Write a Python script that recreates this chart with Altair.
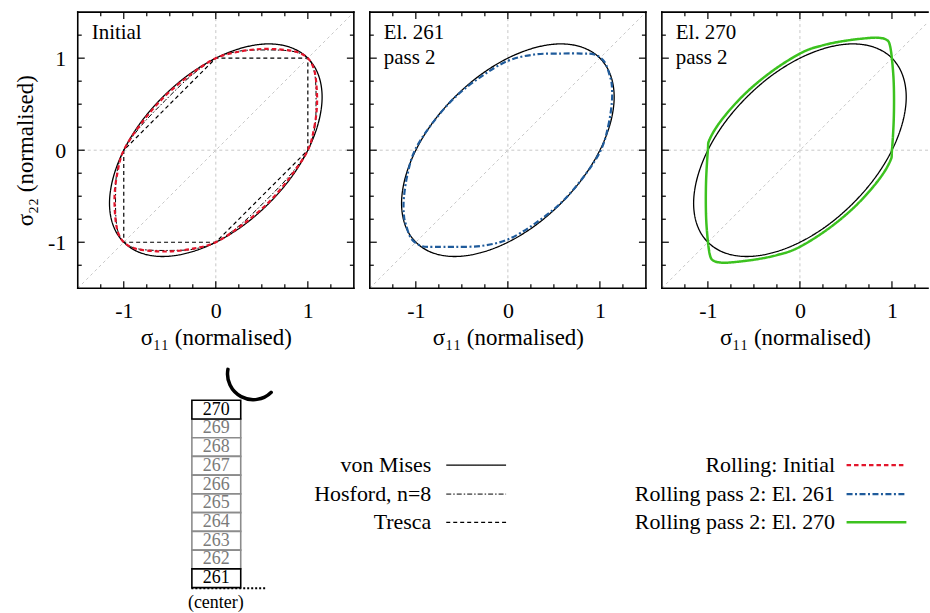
import altair as alt
import pandas as pd

FONT = "Liberation Serif"

# ---------------- data ----------------
TICK_MAJOR = [-1, 0, 1]
TICK_MINOR = [-1.25, -0.75, -0.5, -0.25, 0.25, 0.5, 0.75, 1.25]
ZERO = [0]
DIAG = [-1.5, 1.5]

VM_S11 = [1.0, 0.817, 0.577, 0.299, 0.0, -0.299, -0.577, -0.817, -1.0, -1.115, -1.155, -1.115,
          -1.0, -0.817, -0.577, -0.299, 0.0, 0.299, 0.577, 0.817, 1.0, 1.115, 1.155, 1.115]
VM_S22 = [1.0, 1.115, 1.155, 1.115, 1.0, 0.817, 0.577, 0.299, 0.0, -0.299, -0.577, -0.817,
          -1.0, -1.115, -1.155, -1.115, -1.0, -0.817, -0.577, -0.299, 0.0, 0.299, 0.577, 0.817]

HOS_S11 = [1.0, 1.076, 1.089, 1.084, 1.058, 1.0, 0.9, 0.75, 0.5, 0.25, 0.0, -0.269, -0.545, -0.808,
           -1.0, -1.076, -1.089, -1.084, -1.058, -1.0, -0.9, -0.75, -0.5, -0.25, 0.0, 0.269, 0.545, 0.808]
HOS_S22 = [0.0, 0.25, 0.5, 0.75, 0.9, 1.0, 1.058, 1.084, 1.089, 1.076, 1.0, 0.808, 0.545, 0.269,
           0.0, -0.25, -0.5, -0.75, -0.9, -1.0, -1.058, -1.084, -1.089, -1.076, -1.0, -0.808, -0.545, -0.269]

TRE_S11 = [1.0, 1.0, 0.0, -1.0, -1.0, 0.0]
TRE_S22 = [0.0, 1.0, 1.0, 0.0, -1.0, -1.0]

INI_S11 = [1.0, 1.07, 1.10, 1.09, 1.06, 1.0, 0.9, 0.75, 0.5, 0.25, 0.0, -0.29, -0.57, -0.81,
           -1.0, -1.07, -1.10, -1.09, -1.06, -1.0, -0.9, -0.75, -0.5, -0.25, 0.0, 0.29, 0.57, 0.81]
INI_S22 = [0.0, 0.25, 0.5, 0.75, 0.9, 1.0, 1.06, 1.09, 1.10, 1.07, 1.0, 0.81, 0.57, 0.29,
           0.0, -0.25, -0.5, -0.75, -0.9, -1.0, -1.06, -1.09, -1.10, -1.07, -1.0, -0.81, -0.57, -0.29]

E261_S11 = [1.01, 1.09, 1.13, 1.13, 1.11, 1.05, 0.94, 0.80, 0.58, 0.29, 0.0, -0.29, -0.58, -0.83,
            -1.01, -1.09, -1.13, -1.13, -1.11, -1.05, -0.94, -0.80, -0.58, -0.29, 0.0, 0.29, 0.58, 0.83]
E261_S22 = [0.0, 0.26, 0.52, 0.70, 0.80, 0.96, 1.04, 1.05, 1.05, 1.04, 0.97, 0.80, 0.57, 0.28,
            0.0, -0.26, -0.52, -0.70, -0.80, -0.96, -1.04, -1.05, -1.05, -1.04, -0.97, -0.80, -0.57, -0.28]

E270_S11 = [1.00, 1.02, 1.02, 1.00, 0.975, 0.94, 0.87, 0.76, 0.50, 0.25, 0.02, -0.30, -0.60, -0.85, -0.98,
            -1.00, -1.02, -1.02, -1.00, -0.975, -0.94, -0.87, -0.76, -0.50, -0.25, -0.02, 0.30, 0.60, 0.85, 0.98]
E270_S22 = [0.00, 0.35, 0.71, 0.99, 1.15, 1.20, 1.22, 1.22, 1.19, 1.14, 1.06, 0.86, 0.61, 0.33, 0.12,
            0.00, -0.35, -0.71, -0.99, -1.15, -1.20, -1.22, -1.22, -1.19, -1.14, -1.06, -0.86, -0.61, -0.33, -0.12]

PANEL_LABELS = ["Initial", "El. 261\npass 2", "El. 270\npass 2"]
X_TITLE = "σ₁₁ (normalised)"
Y_TITLE = "σ₂₂ (normalised)"

LEGEND_LEFT = ["von Mises", "Hosford, n=8", "Tresca"]
LEGEND_RIGHT = ["Rolling: Initial", "Rolling pass 2: El. 261", "Rolling pass 2: El. 270"]
ELEMENTS = [270, 269, 268, 267, 266, 265, 264, 263, 262, 261]
HIGHLIGHT = [270, 261]
CENTER_LABEL = "(center)"

# ---------------- styles ----------------
STY = {
    "vm":   dict(color="black", strokeWidth=1.3, strokeDash=[1, 0]),
    "hos":  dict(color="black", strokeWidth=1.0, strokeDash=[5, 2, 1.5, 2]),
    "tre":  dict(color="black", strokeWidth=1.2, strokeDash=[4, 3]),
    "ini":  dict(color="#e3152b", strokeWidth=2.2, strokeDash=[4.5, 3]),
    "e261": dict(color="#1f5b9b", strokeWidth=2.2, strokeDash=[6, 2.5, 2, 2.5]),
    "e270": dict(color="#3cc21f", strokeWidth=2.5, strokeDash=[1, 0]),
}
GRID_COLOR = "#c8c8c8"

W, H = 277, 277
W3 = 267
SPACING = 16
MAJ_LEN, MIN_LEN = 7, 4
PAD_TOP = 9.2

LAYOUT = dict(
    x0=77, x1=930, y0=355, y1=613,
    box_l=191.5, box_r=240.5, box_top=399.3, box_h=18.8,
    dot_x0=191, dot_x1=265, dot_y=588,
    center_x=215.5, center_y=603,
    roll_x=253, roll_y=373,
    leg_rows=[464.5, 493.5, 521.8],
    leg_l_text=431.7, leg_l_line=(446.7, 506.7),
    leg_r_text=836.7, leg_r_line=(848.3, 908.3),
)


def curve_df(s11, s22):
    return pd.DataFrame({"s11": s11, "s22": s22, "i": list(range(len(s11)))})


def panel(idx, curves, label, width, xmax, right_frame, show_y):
    xs = alt.Scale(domain=[-1.5, xmax], nice=False, zero=False)
    ys = alt.Scale(domain=[-1.5, 1.5], nice=False, zero=False)
    lab_expr = "datum.value < 0 ? '-' + format(-datum.value, 'd') : format(datum.value, 'd')"
    xaxis = alt.Axis(values=TICK_MAJOR, ticks=False, tickSize=0, domain=False, grid=False,
                     labelFont=FONT, labelFontSize=22, labelPadding=12, labelColor="black",
                     labelExpr=lab_expr, title=X_TITLE, titleFont=FONT, titleFontSize=23,
                     titleFontWeight="normal", titleColor="black", titlePadding=5)
    if show_y:
        yaxis = alt.Axis(values=TICK_MAJOR, ticks=False, tickSize=0, domain=False, grid=False,
                         labelFont=FONT, labelFontSize=22, labelPadding=12, labelColor="black",
                         labelExpr=lab_expr, title=Y_TITLE, titleFont=FONT, titleFontSize=23,
                         titleFontWeight="normal", titleColor="black", titlePadding=10)
    else:
        yaxis = None

    def X(f):
        return alt.X(f"{f}:Q", scale=xs, axis=xaxis)

    def Y(f):
        return alt.Y(f"{f}:Q", scale=ys, axis=yaxis)

    layers = []
    zero = pd.DataFrame({"v": ZERO})
    layers.append(alt.Chart(zero).mark_rule(color=GRID_COLOR, strokeDash=[3, 3], strokeWidth=1)
                  .encode(x=X("v")))
    layers.append(alt.Chart(zero).mark_rule(color=GRID_COLOR, strokeDash=[3, 3], strokeWidth=1)
                  .encode(y=Y("v")))
    diag = pd.DataFrame({"d": DIAG})
    layers.append(alt.Chart(diag).mark_line(color=GRID_COLOR, strokeDash=[3, 3], strokeWidth=1, clip=True)
                  .encode(x=X("d"), y=Y("d")))

    for key, s11, s22 in curves:
        interp = "linear-closed" if key == "tre" else "cardinal-closed"
        layers.append(alt.Chart(curve_df(s11, s22))
                      .mark_line(interpolate=interp, clip=True, **STY[key])
                      .encode(x=X("s11"), y=Y("s22"), order="i:Q"))

    # tick marks (inward)
    xmaj = pd.DataFrame({"t": [t for t in TICK_MAJOR if t < xmax]})
    xmin = pd.DataFrame({"t": [t for t in TICK_MINOR if t < xmax]})
    ymaj = pd.DataFrame({"t": TICK_MAJOR})
    ymin = pd.DataFrame({"t": TICK_MINOR})
    for df, ln in ((xmaj, MAJ_LEN), (xmin, MIN_LEN)):
        layers.append(alt.Chart(df).mark_rule(color="black", strokeWidth=1.2)
                      .encode(x=X("t"), y=alt.value(H), y2=alt.value(H - ln)))
        layers.append(alt.Chart(df).mark_rule(color="black", strokeWidth=1.2)
                      .encode(x=X("t"), y=alt.value(0), y2=alt.value(ln)))
    for df, ln in ((ymaj, MAJ_LEN), (ymin, MIN_LEN)):
        layers.append(alt.Chart(df).mark_rule(color="black", strokeWidth=1.2)
                      .encode(y=Y("t"), x=alt.value(0), x2=alt.value(ln)))
        if right_frame:
            layers.append(alt.Chart(df).mark_rule(color="black", strokeWidth=1.2)
                          .encode(y=Y("t"), x=alt.value(width), x2=alt.value(width - ln)))

    # frame
    one = pd.DataFrame({"a": [0]})
    fr = dict(color="black", strokeWidth=1.6, strokeCap="square")
    layers.append(alt.Chart(one).mark_rule(**fr).encode(x=alt.value(0), y=alt.value(0), y2=alt.value(H)))
    layers.append(alt.Chart(one).mark_rule(**fr).encode(x=alt.value(0), x2=alt.value(width), y=alt.value(0)))
    layers.append(alt.Chart(one).mark_rule(**fr).encode(x=alt.value(0), x2=alt.value(width), y=alt.value(H)))
    if right_frame:
        layers.append(alt.Chart(one).mark_rule(**fr).encode(x=alt.value(width), y=alt.value(0), y2=alt.value(H)))

    # panel label
    layers.append(alt.Chart(pd.DataFrame({"t": [label]}))
                  .mark_text(align="left", baseline="alphabetic", font=FONT, fontSize=21,
                             lineBreak="\n", lineHeight=25, color="black")
                  .encode(x=alt.value(14), y=alt.value(27), text="t:N"))

    return alt.layer(*layers).properties(width=width, height=H)


p1 = panel(0, [("vm", VM_S11, VM_S22), ("tre", TRE_S11, TRE_S22), ("hos", HOS_S11, HOS_S22),
               ("ini", INI_S11, INI_S22)], PANEL_LABELS[0], W, 1.5, True, True)
p2 = panel(1, [("vm", VM_S11, VM_S22), ("e261", E261_S11, E261_S22)], PANEL_LABELS[1], W, 1.5, True, False)
p3 = panel(2, [("vm", VM_S11, VM_S22), ("e270", E270_S11, E270_S22)], PANEL_LABELS[2], W3,
           -1.5 + 3.0 * W3 / W, False, False)

top = alt.hconcat(p1, p2, p3, spacing=SPACING, bounds="flush")

# ---------------- bottom: element stack + legend ----------------
L = LAYOUT
bx = alt.Scale(domain=[L["x0"], L["x1"]], nice=False, zero=False)
by = alt.Scale(domain=[L["y0"], L["y1"]], nice=False, zero=False, reverse=True)


def BX(f):
    return alt.X(f"{f}:Q", scale=bx, axis=None)


def BY(f):
    return alt.Y(f"{f}:Q", scale=by, axis=None)


blayers = []
# roll
blayers.append(alt.Chart(pd.DataFrame({"x": [L["roll_x"]], "y": [L["roll_y"]]}))
               .mark_arc(innerRadius=24, outerRadius=27.5, theta=2.30, theta2=4.96, color="black",
                         cornerRadius=1.5)
               .encode(x=BX("x"), y=BY("y")))

el = pd.DataFrame({"e": ELEMENTS, "row": list(range(len(ELEMENTS)))})
el["y_top"] = L["box_top"] + el["row"] * L["box_h"]
el["y_bot"] = el["y_top"] + L["box_h"]
el["y_mid"] = el["y_top"] + L["box_h"] / 2
el["xl"] = L["box_l"]
el["xr"] = L["box_r"]
el["xm"] = (L["box_l"] + L["box_r"]) / 2
el_hi = el[el["e"].isin(HIGHLIGHT)]
el_lo = el[~el["e"].isin(HIGHLIGHT)]

blayers.append(alt.Chart(el_lo).mark_rect(fill="white", stroke="#8c8c8c", strokeWidth=1.6)
               .encode(x=BX("xl"), x2="xr:Q", y=BY("y_top"), y2="y_bot:Q"))
blayers.append(alt.Chart(el_hi).mark_rect(fill="white", stroke="black", strokeWidth=1.6)
               .encode(x=BX("xl"), x2="xr:Q", y=BY("y_top"), y2="y_bot:Q"))
blayers.append(alt.Chart(el_lo).mark_text(font=FONT, fontSize=18, color="#7a7a7a", baseline="middle")
               .encode(x=BX("xm"), y=BY("y_mid"), text="e:N"))
blayers.append(alt.Chart(el_hi).mark_text(font=FONT, fontSize=18, color="black", baseline="middle")
               .encode(x=BX("xm"), y=BY("y_mid"), text="e:N"))

blayers.append(alt.Chart(pd.DataFrame({"a": [L["dot_x0"]], "b": [L["dot_x1"]], "y": [L["dot_y"]]}))
               .mark_rule(color="black", strokeWidth=2, strokeDash=[2, 2])
               .encode(x=BX("a"), x2="b:Q", y=BY("y")))
blayers.append(alt.Chart(pd.DataFrame({"t": [CENTER_LABEL], "x": [L["center_x"]], "y": [L["center_y"]]}))
               .mark_text(font=FONT, fontSize=18, color="black", baseline="middle")
               .encode(x=BX("x"), y=BY("y"), text="t:N"))

# legend
for labels, tx, (lx0, lx1), keys in (
        (LEGEND_LEFT, L["leg_l_text"], L["leg_l_line"], ["vm", "hos", "tre"]),
        (LEGEND_RIGHT, L["leg_r_text"], L["leg_r_line"], ["ini", "e261", "e270"])):
    tdf = pd.DataFrame({"t": labels, "x": [tx] * 3, "y": L["leg_rows"]})
    blayers.append(alt.Chart(tdf).mark_text(font=FONT, fontSize=22, color="black", align="right",
                                            baseline="middle")
                   .encode(x=BX("x"), y=BY("y"), text="t:N"))
    for r, k in enumerate(keys):
        ldf = pd.DataFrame({"a": [lx0], "b": [lx1], "y": [L["leg_rows"][r]]})
        blayers.append(alt.Chart(ldf).mark_rule(**STY[k]).encode(x=BX("a"), x2="b:Q", y=BY("y")))

bottom = alt.layer(*blayers).properties(width=L["x1"] - L["x0"], height=L["y1"] - L["y0"])

# With flush bounds the nested row counts as zero height, so the gap is measured from the top.
chart = alt.vconcat(top, bottom, spacing=L["y0"] - PAD_TOP - 0.8, bounds="flush").properties(
    padding={"left": 14, "top": PAD_TOP, "right": 0, "bottom": 0},
    background="white",
).configure_view(strokeWidth=0, stroke="transparent")

chart.save("out.html", embed_options={"renderer": "svg", "actions": False})
